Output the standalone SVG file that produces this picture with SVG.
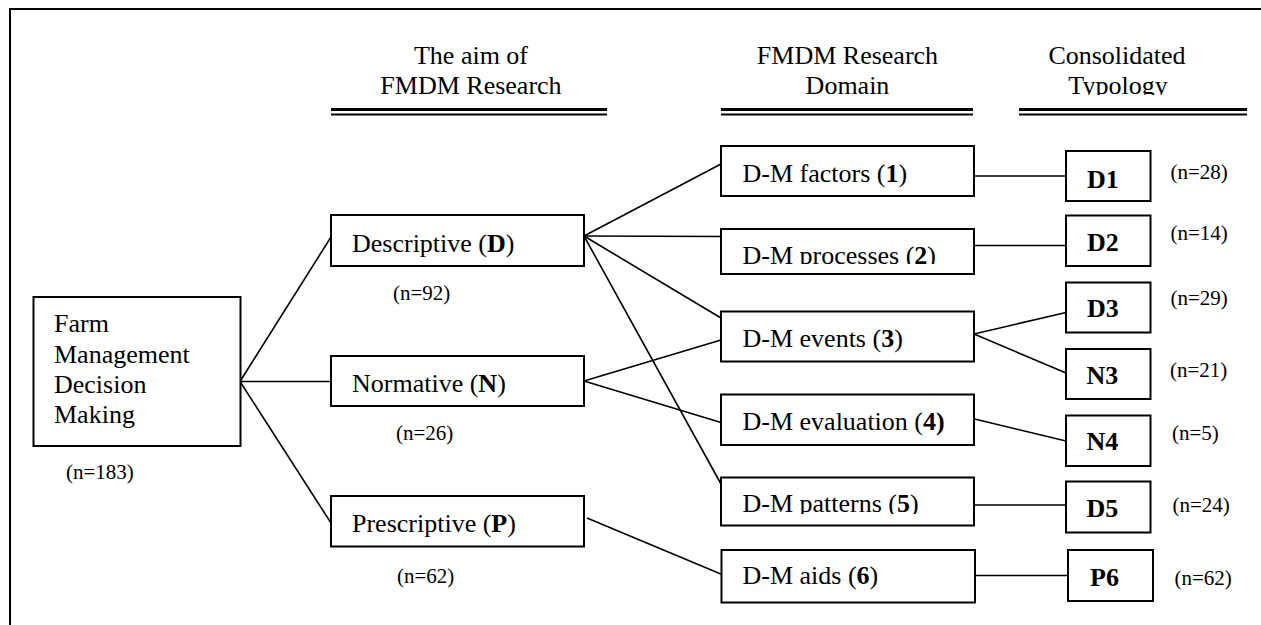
<svg xmlns="http://www.w3.org/2000/svg" width="1261" height="625" viewBox="0 0 1261 625" font-family="'Liberation Serif', 'Times New Roman', Times, 'DejaVu Serif', serif">
<style>
  text { font-family: "Liberation Serif", "Times New Roman", Times, "DejaVu Serif", serif; fill: #000; }
  .h { font-size: 26px; text-anchor: middle; }
  .t { font-size: 26px; }
  .b { font-size: 26px; font-weight: bold; }
  .n { font-size: 21px; }
  .box { fill: #fff; stroke: #000; stroke-width: 2; }
  .c { stroke: #000; stroke-width: 1.6; fill: none; }
  .frame { stroke: #000; stroke-width: 2; fill: none; }
  .dl1 { stroke: #000; stroke-width: 2.8; }
  .dl2 { stroke: #000; stroke-width: 2.2; }
</style>
<defs>
  <clipPath id="clipTyp"><rect x="0" y="0" width="1261" height="95"/></clipPath>
  <clipPath id="clipProc"><rect x="0" y="0" width="1261" height="264"/></clipPath>
  <clipPath id="clipPat"><rect x="0" y="0" width="1261" height="514"/></clipPath>
</defs>
<rect x="0" y="0" width="1261" height="625" fill="#fff"/>
<g id="frame">
  <path class="frame" d="M10 625 V9 H1261"/>
</g>
<g id="headers">
  <text class="h" x="471" y="64">The aim of</text>
  <text class="h" x="471" y="94">FMDM Research</text>
  <line class="dl1" x1="331" y1="109.5" x2="607" y2="109.5"/>
  <line class="dl2" x1="331" y1="114.5" x2="607" y2="114.5"/>
  <text class="h" x="847.5" y="64">FMDM Research</text>
  <text class="h" x="847.5" y="94">Domain</text>
  <line class="dl1" x1="721" y1="109.5" x2="973" y2="109.5"/>
  <line class="dl2" x1="721" y1="114.5" x2="973" y2="114.5"/>
  <text class="h" x="1117" y="64">Consolidated</text>
  <text class="h" x="1118" y="94" clip-path="url(#clipTyp)">Typology</text>
  <line class="dl1" x1="1019" y1="109.5" x2="1247" y2="109.5"/>
  <line class="dl2" x1="1019" y1="114.5" x2="1247" y2="114.5"/>
</g>
<g id="connectors">
  <line class="c" x1="240" y1="381.5" x2="331" y2="237"/>
  <line class="c" x1="240" y1="381.5" x2="331" y2="381.5"/>
  <line class="c" x1="240" y1="381.5" x2="331" y2="523"/>
  <line class="c" x1="584" y1="236" x2="721" y2="164"/>
  <line class="c" x1="584" y1="236" x2="721" y2="236.5"/>
  <line class="c" x1="584" y1="236" x2="721" y2="318"/>
  <line class="c" x1="584" y1="236" x2="721" y2="484"/>
  <line class="c" x1="584" y1="381" x2="721" y2="340"/>
  <line class="c" x1="584" y1="381" x2="721" y2="422.5"/>
  <line class="c" x1="587" y1="518" x2="728" y2="577"/>
  <line class="c" x1="974" y1="176" x2="1066" y2="176"/>
  <line class="c" x1="974" y1="245.5" x2="1066" y2="245.5"/>
  <line class="c" x1="974" y1="334" x2="1066" y2="312.5"/>
  <line class="c" x1="974" y1="334" x2="1066" y2="373"/>
  <line class="c" x1="972.5" y1="418.5" x2="1066" y2="441"/>
  <line class="c" x1="974" y1="505" x2="1066" y2="505"/>
  <line class="c" x1="975" y1="575.5" x2="1068" y2="575.5"/>
</g>
<g id="root">
  <rect class="box" x="33.5" y="297" width="207" height="149"/>
  <text class="t" x="54" y="331.5">Farm</text>
  <text class="t" x="54" y="362.5">Management</text>
  <text class="t" x="54" y="392.5">Decision</text>
  <text class="t" x="54" y="423">Making</text>
  <text class="n" x="66" y="478.5">(n=183)</text>
</g>
<g id="descriptive">
  <rect class="box" x="331" y="215" width="253" height="51"/>
  <text class="t" x="352" y="251.5">Descriptive (<tspan font-weight="bold">D</tspan>)</text>
  <text class="n" x="393" y="300">(n=92)</text>
</g>
<g id="normative">
  <rect class="box" x="331" y="356" width="253" height="50"/>
  <text class="t" x="352" y="391.5">Normative (<tspan font-weight="bold">N</tspan>)</text>
  <text class="n" x="396" y="440">(n=26)</text>
</g>
<g id="prescriptive">
  <rect class="box" x="331" y="496" width="253" height="50.5"/>
  <text class="t" x="352" y="531.5">Prescriptive (<tspan font-weight="bold">P</tspan>)</text>
  <text class="n" x="397" y="583">(n=62)</text>
</g>
<g id="dm-factors">
  <rect class="box" x="721" y="146" width="253" height="50"/>
  <text class="t" x="742.5" y="181.5">D-M factors (<tspan font-weight="bold">1</tspan>)</text>
</g>
<g id="dm-processes">
  <rect class="box" x="721" y="229" width="253" height="45"/>
  <text class="t" x="742.5" y="263.5" clip-path="url(#clipProc)">D-M processes (<tspan font-weight="bold">2</tspan>)</text>
</g>
<g id="dm-events">
  <rect class="box" x="721" y="311.5" width="253" height="50"/>
  <text class="t" x="742.5" y="346.5">D-M events (<tspan font-weight="bold">3</tspan>)</text>
</g>
<g id="dm-evaluation">
  <rect class="box" x="721" y="394.5" width="253" height="50.5"/>
  <text class="t" x="742.5" y="430">D-M evaluation (<tspan font-weight="bold">4)</tspan></text>
</g>
<g id="dm-patterns">
  <rect class="box" x="721" y="477.5" width="253" height="48"/>
  <text class="t" x="742.5" y="512" clip-path="url(#clipPat)">D-M patterns (<tspan font-weight="bold">5</tspan>)</text>
</g>
<g id="dm-aids">
  <rect class="box" x="721.5" y="550" width="253.5" height="52.5"/>
  <text class="t" x="742.5" y="584">D-M aids (<tspan font-weight="bold">6</tspan>)</text>
</g>
<g id="D1">
  <rect class="box" x="1066" y="151" width="84.5" height="50"/>
  <text class="b" x="1087" y="187.5">D1</text>
  <text class="n" x="1170.5" y="179">(n=28)</text>
</g>
<g id="D2">
  <rect class="box" x="1066" y="215.5" width="84.5" height="50.5"/>
  <text class="b" x="1087" y="251">D2</text>
  <text class="n" x="1170.5" y="240">(n=14)</text>
</g>
<g id="D3">
  <rect class="box" x="1066" y="282.5" width="84.5" height="50"/>
  <text class="b" x="1087" y="317">D3</text>
  <text class="n" x="1170.5" y="305">(n=29)</text>
</g>
<g id="N3">
  <rect class="box" x="1066" y="349" width="84.5" height="50"/>
  <text class="b" x="1086.5" y="384">N3</text>
  <text class="n" x="1170" y="377">(n=21)</text>
</g>
<g id="N4">
  <rect class="box" x="1066" y="415.5" width="84.5" height="50.5"/>
  <text class="b" x="1086.5" y="450">N4</text>
  <text class="n" x="1172" y="439.5">(n=5)</text>
</g>
<g id="D5">
  <rect class="box" x="1066" y="481.5" width="84.5" height="51"/>
  <text class="b" x="1086.5" y="517">D5</text>
  <text class="n" x="1172.5" y="511.5">(n=24)</text>
</g>
<g id="P6">
  <rect class="box" x="1068" y="550" width="85" height="51"/>
  <text class="b" x="1090" y="586">P6</text>
  <text class="n" x="1174.5" y="585">(n=62)</text>
</g>
</svg>
